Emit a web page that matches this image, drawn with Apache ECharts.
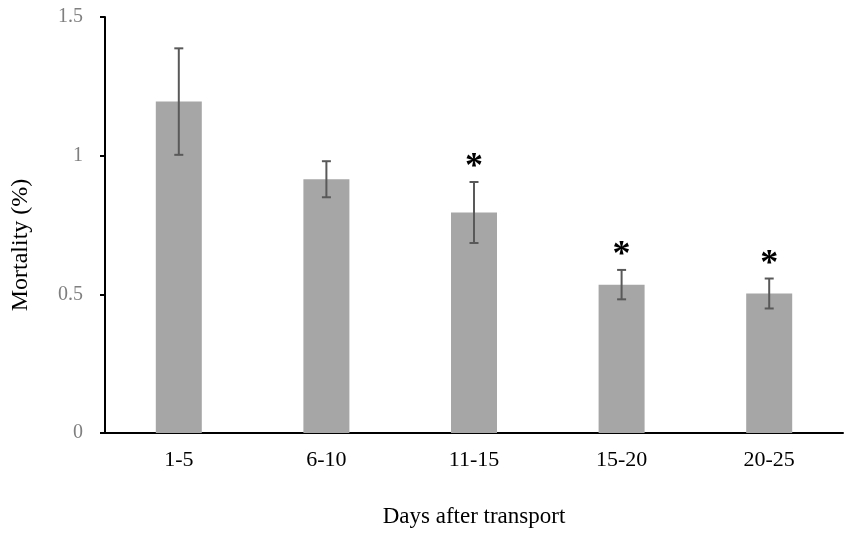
<!DOCTYPE html>
<html lang="en">
<head>
    <meta charset="UTF-8">
    <title>chart</title>
    <script src="https://cdn.jsdelivr.net/npm/echarts@6/dist/echarts.min.js"></script>
    <style>
        html, body {
            margin: 0;
            height: 100%;
            background: #fff;
        }
        #app {
            width: 851px;
            height: 535px;
        }
    </style>
</head>
<body>
<div id="app"></div>
<script>
    var categories = ['1-5', '6-10', '11-15', '15-20', '20-25'];
    var mortality = [1.195, 0.915, 0.795, 0.535, 0.503];
    var errors = [0.192, 0.065, 0.11, 0.053, 0.054];
    var significant = [false, false, true, true, true];
    var yTicks = [0, 0.5, 1, 1.5];

    var serif = '"Liberation Serif", "DejaVu Serif", serif';

    var errData = [];
    for (var i = 0; i < categories.length; i++) {
        errData.push([i, mortality[i] - errors[i], mortality[i] + errors[i], significant[i] ? 1 : 0]);
    }

    var option = {
        animation: false,
        grid: {left: 105, right: 8, top: 17, bottom: 102},
        xAxis: {
            type: 'category',
            data: categories,
            name: 'Days after transport',
            nameLocation: 'middle',
            nameGap: 72,
            nameTextStyle: {color: '#000', fontFamily: serif, fontSize: 23},
            axisTick: {show: false},
            axisLine: {lineStyle: {color: '#000', width: 2}},
            axisLabel: {color: '#000', fontFamily: serif, fontSize: 22, margin: 16}
        },
        yAxis: {
            type: 'value',
            min: yTicks[0],
            max: yTicks[yTicks.length - 1],
            interval: 0.5,
            name: 'Mortality (%)',
            nameLocation: 'middle',
            nameGap: 72,
            nameTextStyle: {color: '#000', fontFamily: serif, fontSize: 24, padding: [0, 0, 0, -40]},
            splitLine: {show: false},
            axisLine: {show: true, lineStyle: {color: '#000', width: 2}},
            axisTick: {show: true, length: 5, lineStyle: {color: '#000', width: 2}},
            axisLabel: {color: '#7f7f7f', fontFamily: serif, fontSize: 20, margin: 22}
        },
        series: [
            {
                type: 'bar',
                data: mortality,
                barWidth: 46,
                itemStyle: {color: '#a6a6a6'}
            },
            {
                type: 'custom',
                data: errData,
                z: 10,
                renderItem: function (params, api) {
                    var lo = api.coord([api.value(0), api.value(1)]);
                    var hi = api.coord([api.value(0), api.value(2)]);
                    var w = 4.5;
                    var style = {stroke: '#595959', lineWidth: 2};
                    var children = [
                        {type: 'line', shape: {x1: hi[0], y1: hi[1], x2: lo[0], y2: lo[1]}, style: style},
                        {type: 'line', shape: {x1: hi[0] - w, y1: hi[1], x2: hi[0] + w, y2: hi[1]}, style: style},
                        {type: 'line', shape: {x1: lo[0] - w, y1: lo[1], x2: lo[0] + w, y2: lo[1]}, style: style}
                    ];
                    if (api.value(3)) {
                        children.push({
                            type: 'text',
                            style: {
                                text: '*', x: hi[0], y: hi[1] + 4,
                                fill: '#000', font: 'bold 36px ' + serif,
                                align: 'center', verticalAlign: 'bottom'
                            }
                        });
                    }
                    return {type: 'group', children: children};
                }
            }
        ]
    };

    var myChart = echarts.init(document.getElementById('app'));
    myChart.setOption(option);
</script>
</body>
</html>
